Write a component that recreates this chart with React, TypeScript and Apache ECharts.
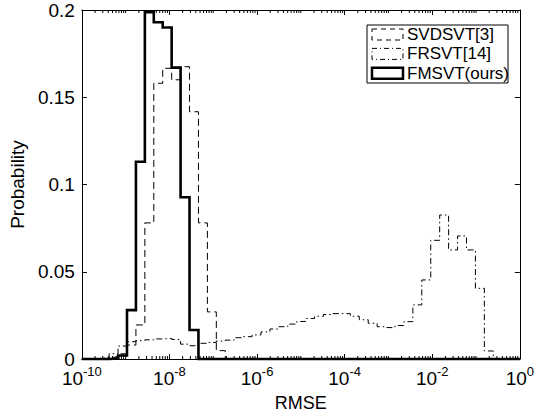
import React, { useEffect, useRef } from "react";
import * as echarts from "echarts";

const FONT = "'Liberation Sans', Arial, Helvetica, sans-serif";

// Histogram bins, uniform in log10(RMSE)
const binStartLog = -9.582;
const binWidthLog = 0.204;

// Probability per bin (44 bins)
const svdsvt = [
  0, 0.001, 0.003, 0.008, 0.0195, 0.078, 0.158, 0.1666, 0.16, 0.1675, 0.1417,
  0.078, 0.027, 0.0048, 0, 0, 0, 0, 0, 0, 0, 0, 0, 0, 0, 0, 0, 0, 0, 0, 0, 0,
  0, 0, 0, 0, 0, 0, 0, 0, 0, 0, 0, 0,
];
const frsvt = [
  0.0005, 0.003, 0.0074, 0.0099, 0.0105, 0.011, 0.0115, 0.0118, 0.0112, 0.0085,
  0.0076, 0.009, 0.0095, 0.0103, 0.0108, 0.0122, 0.0128, 0.0138, 0.0155, 0.0172,
  0.0185, 0.02, 0.0215, 0.0232, 0.0245, 0.0255, 0.026, 0.026, 0.0245, 0.0225,
  0.0205, 0.0185, 0.018, 0.0192, 0.0214, 0.031, 0.0453, 0.068, 0.0825, 0.0625,
  0.0705, 0.0625, 0.0405, 0.0046,
];
const fmsvt = [
  0, 0.0003, 0.002, 0.028, 0.113, 0.1987, 0.193, 0.19, 0.167, 0.0927, 0.0166,
  0, 0, 0, 0, 0, 0, 0, 0, 0, 0, 0, 0, 0, 0, 0, 0, 0, 0, 0, 0, 0, 0, 0, 0, 0, 0,
  0, 0, 0, 0, 0, 0, 0,
];

const seriesNames = ["SVDSVT[3]", "FRSVT[14]", "FMSVT(ours)"];
const xMinExp = -10;
const xMaxExp = 0;
const xTickStep = 2;
const yMin = 0;
const yMax = 0.2;
const yTickStep = 0.05;

function stairs(vals: number[]): number[][] {
  const pts: number[][] = [[xMinExp, 0]];
  vals.forEach((v, i) => pts.push([binStartLog + i * binWidthLog, v]));
  pts.push([binStartLog + vals.length * binWidthLog, 0]);
  pts.push([xMaxExp, 0]);
  return pts;
}

const minorTicks: number[][] = [];
for (let n = xMinExp; n < xMaxExp; n++) {
  for (let m = 2; m <= 9; m++) minorTicks.push([n + Math.log10(m), 0]);
  if ((n - xMinExp) % xTickStep !== 0) minorTicks.push([n, 0]);
}

export default function App() {
  const ref = useRef<HTMLDivElement>(null);
  useEffect(() => {
    if (!ref.current) return;
    const chart = echarts.init(ref.current, undefined, { renderer: "svg" });
    const axisLine = { show: true, onZero: false, lineStyle: { color: "#000", width: 1 } };
    const axisTick = { show: true, inside: true, length: 5, lineStyle: { color: "#000", width: 1 } };
    const baseX = {
      type: "value",
      min: xMinExp,
      max: xMaxExp,
      interval: xTickStep,
      axisLine,
      axisTick,
      splitLine: { show: false },
    };
    const baseY = {
      type: "value",
      min: yMin,
      max: yMax,
      interval: yTickStep,
      axisLine,
      axisTick,
      splitLine: { show: false },
    };
    const legendRows = [
      { dash: [5, 4], width: 1 },
      { dash: [5, 3, 1, 3], width: 1 },
      { dash: null, width: 2.5 },
    ];
    const legendChildren: any[] = [
      {
        type: "rect",
        shape: { x: 367, y: 25, width: 141, height: 58 },
        style: { fill: "#fff", stroke: "#000", lineWidth: 1 },
      },
    ];
    legendRows.forEach((r, i) => {
      const cy = 34.5 + i * 19.4;
      legendChildren.push({
        type: "rect",
        shape: { x: 372, y: cy - 5.5, width: 31, height: 11 },
        style: {
          fill: "none",
          stroke: "#000",
          lineWidth: r.width,
          lineDash: r.dash || undefined,
        },
      });
      legendChildren.push({
        type: "text",
        x: 407,
        y: cy,
        style: {
          text: seriesNames[i],
          fontFamily: FONT,
          fontSize: 17,
          fill: "#000",
          verticalAlign: "middle",
          align: "left",
        },
      });
    });

    const option: any = {
      animation: false,
      backgroundColor: "#fff",
      textStyle: { fontFamily: FONT, color: "#000" },
      grid: { left: 70, right: 15, top: 10, bottom: 59, containLabel: false },
      xAxis: [
        {
          ...baseX,
          position: "bottom",
          axisLabel: {
            margin: 6,
            color: "#000",
            formatter: (v: number) => `{b|10}{s|${v}}`,
            rich: {
              b: { fontSize: 19, lineHeight: 26, fontFamily: FONT, color: "#000" },
              s: { fontSize: 13, lineHeight: 13, verticalAlign: "top", fontFamily: FONT, color: "#000" },
            },
          },
          name: "RMSE",
          nameLocation: "middle",
          nameGap: 35,
          nameTextStyle: { fontSize: 18, color: "#000", fontFamily: FONT },
        },
        { ...baseX, position: "top", axisLabel: { show: false } },
      ],
      yAxis: [
        {
          ...baseY,
          position: "left",
          axisLabel: {
            margin: 7,
            fontSize: 19,
            color: "#000",
            fontFamily: FONT,
            formatter: (v: number) => String(Math.round(v * 100) / 100),
          },
          name: "Probability",
          nameLocation: "middle",
          nameGap: 46,
          nameTextStyle: { fontSize: 19, color: "#000", fontFamily: FONT },
        },
        { ...baseY, position: "right", axisLabel: { show: false } },
      ],
      series: [
        {
          name: seriesNames[0],
          type: "line",
          step: "end",
          data: stairs(svdsvt),
          symbol: "none",
          clip: false,
          lineStyle: { color: "#000", width: 1, type: [7, 4], cap: "butt", join: "miter" },
          z: 3,
        },
        {
          name: seriesNames[1],
          type: "line",
          step: "end",
          data: stairs(frsvt),
          symbol: "none",
          clip: false,
          lineStyle: { color: "#000", width: 1, type: [6, 3, 1.5, 3], cap: "butt", join: "miter" },
          z: 4,
        },
        {
          name: seriesNames[2],
          type: "line",
          step: "end",
          data: stairs(fmsvt),
          symbol: "none",
          clip: false,
          lineStyle: { color: "#000", width: 2.6, cap: "butt", join: "miter" },
          z: 5,
        },
        {
          type: "custom",
          silent: true,
          data: minorTicks,
          encode: { x: 0, y: 1 },
          clip: false,
          z: 6,
          renderItem: (params: any, api: any) => {
            const x = api.value(0);
            const p0 = api.coord([x, yMin]);
            const p1 = api.coord([x, yMax]);
            return {
              type: "group",
              children: [
                {
                  type: "line",
                  shape: { x1: p0[0], y1: p0[1], x2: p0[0], y2: p0[1] - 3 },
                  style: { stroke: "#000", lineWidth: 1 },
                },
                {
                  type: "line",
                  shape: { x1: p1[0], y1: p1[1], x2: p1[0], y2: p1[1] + 3 },
                  style: { stroke: "#000", lineWidth: 1 },
                },
              ],
            };
          },
        },
      ],
      graphic: [{ type: "group", z: 100, children: legendChildren }],
    };
    chart.setOption(option);
    return () => chart.dispose();
  }, []);
  return (
    <div
      ref={ref}
      style={{ position: "fixed", left: 0, top: 0, width: 537, height: 418, background: "#fff" }}
    />
  );
}
